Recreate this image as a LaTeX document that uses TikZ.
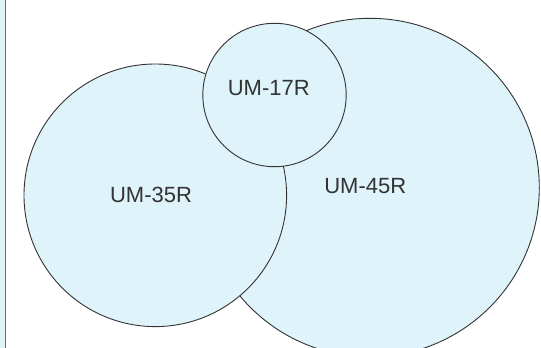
\documentclass[tikz,border=0pt]{standalone}
\usepackage{fontspec}
\setmainfont{Liberation Sans}
\definecolor{fillblue}{HTML}{DFF3FA}
\definecolor{edge}{HTML}{333333}
\definecolor{txt}{HTML}{333333}
\definecolor{sideline}{HTML}{6A6F75}
\begin{document}
\begin{tikzpicture}[x=1pt,y=-1pt,
  setcircle/.style={circle,draw=edge,fill=fillblue,line width=0.9pt,inner sep=0pt,outer sep=0pt},
  setlabel/.style={text=txt,font=\fontsize{22}{26}\selectfont,inner sep=0pt}]
\useasboundingbox (0,0) rectangle (541,348);
\fill[fillblue] (-2,-2) rectangle (5.5,350);
\draw[sideline,line width=1.4pt] (5.5,-2) -- (5.5,350);
\node[setcircle,minimum size=338.6pt] (c45) at (370,187.6) {};
\node[setcircle,minimum size=262.6pt] (c35) at (155.3,195.3) {};
\node[setcircle,minimum size=143.4pt] (c17) at (274.5,95) {};
\node[setlabel] (l35) at (151,195.3) {UM-35R};
\node[setlabel] (l45) at (365.3,186) {UM-45R};
\node[setlabel] (l17) at (268.8,88.3) {UM-17R};
\end{tikzpicture}
\end{document}
